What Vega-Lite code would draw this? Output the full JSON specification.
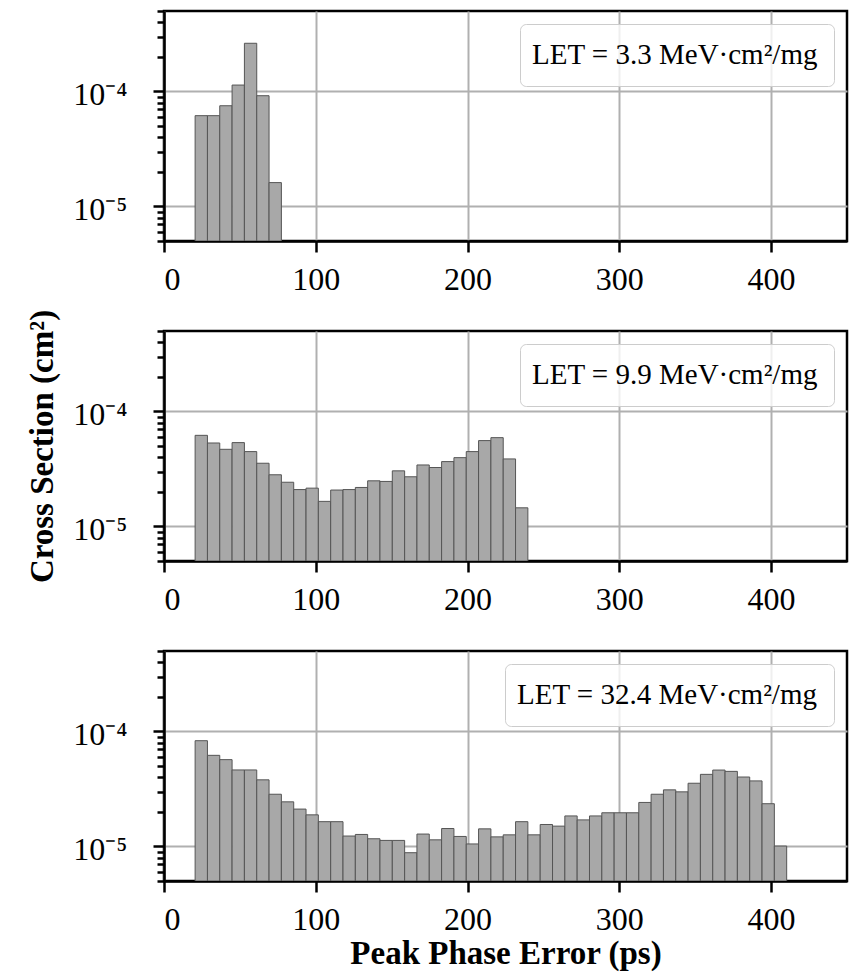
{
  "$schema": "https://vega.github.io/schema/vega-lite/v6.json",
  "padding": {"left": 25, "top": 8, "right": 12, "bottom": 5},
  "background": "white",
  "config": {
    "font": "Liberation Serif",
    "view": {"stroke": "black", "strokeWidth": 2.5},
    "axis": {
      "labelFont": "Liberation Serif",
      "labelFontSize": 32,
      "labelColor": "black",
      "titleFont": "Liberation Serif",
      "titleFontSize": 33,
      "titleFontWeight": "bold",
      "titleColor": "black",
      "domainColor": "black",
      "domainWidth": 2.5,
      "tickColor": "black",
      "tickWidth": 2.5,
      "gridColor": "#b0b0b0",
      "gridWidth": 2,
      "gridOpacity": 1,
      "zindex": 1
    },
    "legend": {
      "orient": "top-right",
      "offset": 13,
      "padding": 16,
      "fillColor": "rgba(255,255,255,0.8)",
      "strokeColor": "#cccccc",
      "cornerRadius": 6,
      "labelFont": "Liberation Serif",
      "labelFontSize": 29,
      "labelColor": "black",
      "labelLimit": 600,
      "symbolSize": 0,
      "symbolStrokeWidth": 0,
      "symbolOpacity": 0,
      "labelOffset": -33,
      "title": null
    }
  },
  "datasets": {
    "p1": [
      {"lo": 20.5, "hi": 28.62, "cs": 6.15e-5},
      {"lo": 28.62, "hi": 36.74, "cs": 6.15e-5},
      {"lo": 36.74, "hi": 44.86, "cs": 7.5e-5},
      {"lo": 44.86, "hi": 52.98, "cs": 1.135e-4},
      {"lo": 52.98, "hi": 61.1, "cs": 2.62e-4},
      {"lo": 61.1, "hi": 69.22, "cs": 9.17e-5},
      {"lo": 69.22, "hi": 77.34, "cs": 1.61e-5}
    ],
    "p2": [
      {"lo": 20.5, "hi": 28.62, "cs": 6.19e-5},
      {"lo": 28.62, "hi": 36.74, "cs": 5.31e-5},
      {"lo": 36.74, "hi": 44.86, "cs": 4.68e-5},
      {"lo": 44.86, "hi": 52.98, "cs": 5.35e-5},
      {"lo": 52.98, "hi": 61.1, "cs": 4.47e-5},
      {"lo": 61.1, "hi": 69.22, "cs": 3.54e-5},
      {"lo": 69.22, "hi": 77.34, "cs": 2.81e-5},
      {"lo": 77.34, "hi": 85.46, "cs": 2.42e-5},
      {"lo": 85.46, "hi": 93.58, "cs": 2.09e-5},
      {"lo": 93.58, "hi": 101.7, "cs": 2.15e-5},
      {"lo": 101.7, "hi": 109.82, "cs": 1.65e-5},
      {"lo": 109.82, "hi": 117.94, "cs": 2.07e-5},
      {"lo": 117.94, "hi": 126.06, "cs": 2.09e-5},
      {"lo": 126.06, "hi": 134.18, "cs": 2.18e-5},
      {"lo": 134.18, "hi": 142.3, "cs": 2.49e-5},
      {"lo": 142.3, "hi": 150.42, "cs": 2.46e-5},
      {"lo": 150.42, "hi": 158.54, "cs": 3.04e-5},
      {"lo": 158.54, "hi": 166.66, "cs": 2.70e-5},
      {"lo": 166.66, "hi": 174.78, "cs": 3.42e-5},
      {"lo": 174.78, "hi": 182.9, "cs": 3.25e-5},
      {"lo": 182.9, "hi": 191.02, "cs": 3.66e-5},
      {"lo": 191.02, "hi": 199.14, "cs": 3.96e-5},
      {"lo": 199.14, "hi": 207.26, "cs": 4.47e-5},
      {"lo": 207.26, "hi": 215.38, "cs": 5.57e-5},
      {"lo": 215.38, "hi": 223.5, "cs": 5.91e-5},
      {"lo": 223.5, "hi": 231.62, "cs": 3.86e-5},
      {"lo": 231.62, "hi": 239.74, "cs": 1.45e-5}
    ],
    "p3": [
      {"lo": 20.5, "hi": 28.62, "cs": 8.30e-5},
      {"lo": 28.62, "hi": 36.74, "cs": 6.19e-5},
      {"lo": 36.74, "hi": 44.86, "cs": 5.68e-5},
      {"lo": 44.86, "hi": 52.98, "cs": 4.62e-5},
      {"lo": 52.98, "hi": 61.1, "cs": 4.62e-5},
      {"lo": 61.1, "hi": 69.22, "cs": 3.79e-5},
      {"lo": 69.22, "hi": 77.34, "cs": 2.84e-5},
      {"lo": 77.34, "hi": 85.46, "cs": 2.44e-5},
      {"lo": 85.46, "hi": 93.58, "cs": 2.11e-5},
      {"lo": 93.58, "hi": 101.7, "cs": 1.88e-5},
      {"lo": 101.7, "hi": 109.82, "cs": 1.64e-5},
      {"lo": 109.82, "hi": 117.94, "cs": 1.64e-5},
      {"lo": 117.94, "hi": 126.06, "cs": 1.23e-5},
      {"lo": 126.06, "hi": 134.18, "cs": 1.27e-5},
      {"lo": 134.18, "hi": 142.3, "cs": 1.165e-5},
      {"lo": 142.3, "hi": 150.42, "cs": 1.127e-5},
      {"lo": 150.42, "hi": 158.54, "cs": 1.127e-5},
      {"lo": 158.54, "hi": 166.66, "cs": 8.81e-6},
      {"lo": 166.66, "hi": 174.78, "cs": 1.28e-5},
      {"lo": 174.78, "hi": 182.9, "cs": 1.14e-5},
      {"lo": 182.9, "hi": 191.02, "cs": 1.43e-5},
      {"lo": 191.02, "hi": 199.14, "cs": 1.22e-5},
      {"lo": 199.14, "hi": 207.26, "cs": 1.05e-5},
      {"lo": 207.26, "hi": 215.38, "cs": 1.42e-5},
      {"lo": 215.38, "hi": 223.5, "cs": 1.21e-5},
      {"lo": 223.5, "hi": 231.62, "cs": 1.26e-5},
      {"lo": 231.62, "hi": 239.74, "cs": 1.64e-5},
      {"lo": 239.74, "hi": 247.86, "cs": 1.26e-5},
      {"lo": 247.86, "hi": 255.98, "cs": 1.55e-5},
      {"lo": 255.98, "hi": 264.1, "cs": 1.50e-5},
      {"lo": 264.1, "hi": 272.22, "cs": 1.84e-5},
      {"lo": 272.22, "hi": 280.34, "cs": 1.70e-5},
      {"lo": 280.34, "hi": 288.46, "cs": 1.84e-5},
      {"lo": 288.46, "hi": 296.58, "cs": 1.96e-5},
      {"lo": 296.58, "hi": 304.7, "cs": 1.96e-5},
      {"lo": 304.7, "hi": 312.82, "cs": 1.96e-5},
      {"lo": 312.82, "hi": 320.94, "cs": 2.41e-5},
      {"lo": 320.94, "hi": 329.06, "cs": 2.84e-5},
      {"lo": 329.06, "hi": 337.18, "cs": 3.10e-5},
      {"lo": 337.18, "hi": 345.3, "cs": 2.98e-5},
      {"lo": 345.3, "hi": 353.42, "cs": 3.54e-5},
      {"lo": 353.42, "hi": 361.54, "cs": 4.23e-5},
      {"lo": 361.54, "hi": 369.66, "cs": 4.61e-5},
      {"lo": 369.66, "hi": 377.78, "cs": 4.49e-5},
      {"lo": 377.78, "hi": 385.9, "cs": 4.01e-5},
      {"lo": 385.9, "hi": 394.02, "cs": 3.71e-5},
      {"lo": 394.02, "hi": 402.14, "cs": 2.35e-5},
      {"lo": 402.14, "hi": 410.26, "cs": 1.007e-5}
    ]
  },
  "vconcat": [
    {
      "width": 683, "height": 230,
      "data": {"name": "p1"},
      "mark": {"type": "bar", "stroke": "#555555", "strokeWidth": 1, "clip": true},
      "encoding": {
        "x": {"field": "lo", "type": "quantitative", "scale": {"domain": [0, 450], "nice": false},
              "axis": {"values": [0, 100, 200, 300, 400], "title": null, "tickSize": 11, "labelPadding": 12}},
        "x2": {"field": "hi"},
        "y": {"field": "cs", "type": "quantitative", "scale": {"type": "log", "domain": [5e-6, 5e-4], "nice": false},
              "axis": {"title": null,
                       "values": [5e-6, 6e-6, 7e-6, 8e-6, 9e-6, 1e-5, 2e-5, 3e-5, 4e-5, 5e-5, 6e-5, 7e-5, 8e-5, 9e-5, 1e-4, 2e-4, 3e-4, 4e-4, 5e-4],
                       "labelExpr": "datum.value == 1e-4 ? '10⁻⁴' : datum.value == 1e-5 ? '10⁻⁵' : ''",
                       "tickSize": {"condition": {"test": "datum.value == 1e-4 || datum.value == 1e-5", "value": 11}, "value": 7},
                       "gridOpacity": {"condition": {"test": "datum.value == 1e-4 || datum.value == 1e-5", "value": 1}, "value": 0},
                       "labelPadding": 26, "labelOffset": 3}},
        "y2": {"datum": 5e-6},
        "color": {"datum": "LET = 3.3 MeV·cm²/mg", "type": "nominal", "scale": {"range": ["#a8a8a8"]}}
      }
    },
    {
      "width": 683, "height": 230,
      "data": {"name": "p2"},
      "mark": {"type": "bar", "stroke": "#555555", "strokeWidth": 1, "clip": true},
      "encoding": {
        "x": {"field": "lo", "type": "quantitative", "scale": {"domain": [0, 450], "nice": false},
              "axis": {"values": [0, 100, 200, 300, 400], "title": null, "tickSize": 11, "labelPadding": 12}},
        "x2": {"field": "hi"},
        "y": {"field": "cs", "type": "quantitative", "scale": {"type": "log", "domain": [5e-6, 5e-4], "nice": false},
              "axis": {"title": "Cross Section (cm²)",
                       "titlePadding": 13,
                       "values": [5e-6, 6e-6, 7e-6, 8e-6, 9e-6, 1e-5, 2e-5, 3e-5, 4e-5, 5e-5, 6e-5, 7e-5, 8e-5, 9e-5, 1e-4, 2e-4, 3e-4, 4e-4, 5e-4],
                       "labelExpr": "datum.value == 1e-4 ? '10⁻⁴' : datum.value == 1e-5 ? '10⁻⁵' : ''",
                       "tickSize": {"condition": {"test": "datum.value == 1e-4 || datum.value == 1e-5", "value": 11}, "value": 7},
                       "gridOpacity": {"condition": {"test": "datum.value == 1e-4 || datum.value == 1e-5", "value": 1}, "value": 0},
                       "labelPadding": 26, "labelOffset": 3}},
        "y2": {"datum": 5e-6},
        "color": {"datum": "LET = 9.9 MeV·cm²/mg", "type": "nominal", "scale": {"range": ["#a8a8a8"]}}
      }
    },
    {
      "width": 683, "height": 230,
      "data": {"name": "p3"},
      "mark": {"type": "bar", "stroke": "#555555", "strokeWidth": 1, "clip": true},
      "encoding": {
        "x": {"field": "lo", "type": "quantitative", "scale": {"domain": [0, 450], "nice": false},
              "axis": {"values": [0, 100, 200, 300, 400], "title": "Peak Phase Error (ps)", "tickSize": 11, "labelPadding": 12, "titlePadding": 2}},
        "x2": {"field": "hi"},
        "y": {"field": "cs", "type": "quantitative", "scale": {"type": "log", "domain": [5e-6, 5e-4], "nice": false},
              "axis": {"title": null,
                       "values": [5e-6, 6e-6, 7e-6, 8e-6, 9e-6, 1e-5, 2e-5, 3e-5, 4e-5, 5e-5, 6e-5, 7e-5, 8e-5, 9e-5, 1e-4, 2e-4, 3e-4, 4e-4, 5e-4],
                       "labelExpr": "datum.value == 1e-4 ? '10⁻⁴' : datum.value == 1e-5 ? '10⁻⁵' : ''",
                       "tickSize": {"condition": {"test": "datum.value == 1e-4 || datum.value == 1e-5", "value": 11}, "value": 7},
                       "gridOpacity": {"condition": {"test": "datum.value == 1e-4 || datum.value == 1e-5", "value": 1}, "value": 0},
                       "labelPadding": 26, "labelOffset": 3}},
        "y2": {"datum": 5e-6},
        "color": {"datum": "LET = 32.4 MeV·cm²/mg", "type": "nominal", "scale": {"range": ["#a8a8a8"]}}
      }
    }
  ],
  "spacing": 90,
  "bounds": "flush",
  "resolve": {"scale": {"color": "independent", "x": "independent", "y": "independent"}, "legend": {"color": "independent"}}
}
